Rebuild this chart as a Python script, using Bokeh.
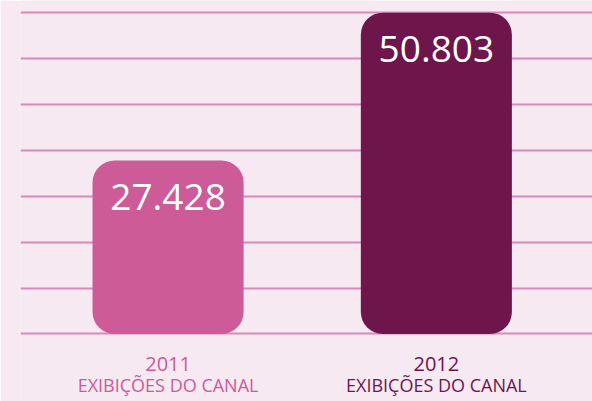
from bokeh.plotting import figure
from bokeh.models import Range1d, FixedTicker, ColumnDataSource
from bokeh.core.properties import value
from bokeh.embed import file_html
from bokeh.resources import INLINE

years = ["2011", "2012"]
views = [27428, 50803]
value_labels = ["27.428", "50.803"]
subtitle = ["EXIBIÇÕES DO CANAL", "EXIBIÇÕES DO CANAL"]
bar_colors = ["#cc5b98", "#6e154c"]
grid_ticks = [0, 7250, 14500, 21750, 29000, 36250, 43500, 50750]

BG = "#f6e9f2"
xs = list(range(len(years)))
src = ColumnDataSource(dict(x=xs, top=views, year=years, lab=value_labels,
                            sub=subtitle, color=bar_colors))

p = figure(width=592, height=401, output_backend="svg", toolbar_location=None,
           x_range=Range1d(-0.55, 1.582), y_range=Range1d(-10672, 52726),
           min_border_left=20, min_border_right=0, min_border_top=0, min_border_bottom=0)
p.background_fill_color = BG
p.border_fill_color = BG
p.outline_line_color = None
p.xaxis.visible = False
p.yaxis.visible = False
p.xgrid.visible = False
p.yaxis.ticker = FixedTicker(ticks=grid_ticks)
p.ygrid.ticker = FixedTicker(ticks=grid_ticks)
p.ygrid.grid_line_color = "#d98ab9"
p.ygrid.grid_line_width = 2

p.vbar(x="x", top="top", bottom=0, width=0.563, source=src, fill_color="color",
       line_color=None, border_radius=22)

p.text(x="x", y="top", text="lab", source=src, text_color="white",
       text_font=value("Open Sans"), text_font_size="37px", text_align="center",
       text_baseline="middle", y_offset=36)

p.text(x="x", y=0, text="year", source=src, text_color="color",
       text_font=value("Open Sans"), text_font_size="20px", text_align="center",
       text_baseline="middle", y_offset=30)
p.text(x="x", y=0, text="sub", source=src, text_color="color",
       text_font=value("Open Sans"), text_font_size="18px", text_align="center",
       text_baseline="middle", y_offset=51)

html = file_html(p, INLINE)
html = html.replace("<body>", '<body style="background:%s">' % BG, 1)
open("out.html", "w").write(html)
